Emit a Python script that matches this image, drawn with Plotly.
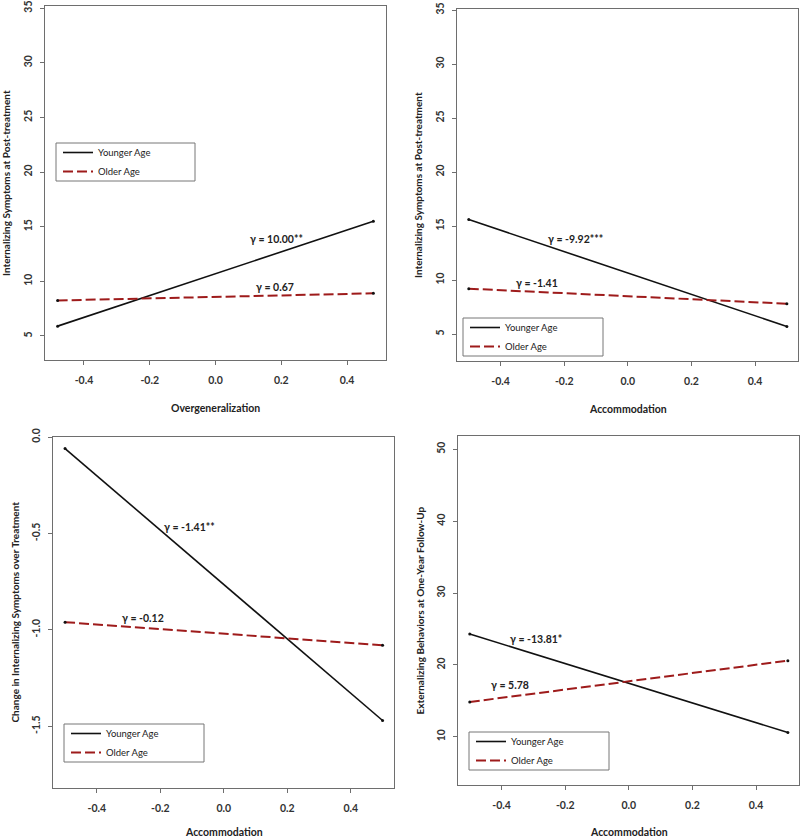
import plotly.graph_objects as go

# ---------------- data ----------------
x_p1 = [-0.48, 0.48]
younger_p1 = [5.9, 15.5]
older_p1 = [8.25, 8.9]

x_p2 = [-0.5, 0.5]
younger_p2 = [15.6, 5.7]
older_p2 = [9.2, 7.8]

x_p3 = [-0.5, 0.5]
younger_p3 = [-0.06, -1.47]
older_p3 = [-0.96, -1.08]

x_p4 = [-0.5, 0.5]
younger_p4 = [24.3, 10.6]
older_p4 = [14.85, 20.6]

series_names = ["Younger Age", "Older Age"]
x_titles = ["Overgeneralization", "Accommodation", "Accommodation", "Accommodation"]
y_titles = ["Internalizing Symptoms at Post-treatment",
            "Internalizing Symptoms at Post-treatment",
            "Change in Internalizing Symptoms over Treatment",
            "Externalizing Behaviors at One-Year Follow-Up"]
x_ticks = [-0.4, -0.2, 0.0, 0.2, 0.4]
x_ticklabels = ["-0.4", "-0.2", "0.0", "0.2", "0.4"]
y_ticks = [[5, 10, 15, 20, 25, 30, 35], [5, 10, 15, 20, 25, 30, 35],
           [-1.5, -1.0, -0.5, 0.0], [10, 20, 30, 40, 50]]
y_ticklabels = [["5", "10", "15", "20", "25", "30", "35"],
                ["5", "10", "15", "20", "25", "30", "35"],
                ["-1.5", "-1.0", "-0.5", "0.0"],
                ["10", "20", "30", "40", "50"]]
gamma_labels = [["γ = 10.00**", "γ = 0.67"], ["γ = -9.92***", "γ = -1.41"],
                ["γ = -1.41**", "γ = -0.12"], ["γ = -13.81*", "γ = 5.78"]]
# annotation anchor points in data coordinates
gamma_pos = [[(0.186, 13.87), (0.18, 9.48)], [(-0.165, 13.8), (-0.284, 9.72)],
             [(-0.109, -0.466), (-0.256, -0.939)], [(-0.292, 23.63), (-0.375, 17.19)]]

# ---------------- layout geometry (pixels) ----------------
W, H = 800, 840
boxes = [  # left, right, top, bottom
    (45, 386, 6, 360),
    (457, 798, 9, 361),
    (53, 394, 437, 788),
    (458, 799, 436, 785),
]
x_ranges = [[-0.5184, 0.5184], [-0.537, 0.535], [-0.538, 0.536], [-0.537, 0.535]]
y_ranges = [[2.8, 35.2], [2.5, 35.1], [-1.82, 0.0], [3.3, 51.85]]
legend_boxes = [(56, 195, 143, 181), (463, 603, 318, 356), (64, 204, 724, 762), (469, 609, 732, 770)]

DATA = [(x_p1, younger_p1, older_p1), (x_p2, younger_p2, older_p2),
        (x_p3, younger_p3, older_p3), (x_p4, younger_p4, older_p4)]

BLACK = "#111111"
RED = "#9E1B1B"
AXIS = "#6e6e6e"
FONT = "Lato"

fig = go.Figure()
layout = dict(width=W, height=H, margin=dict(l=0, r=0, t=0, b=0, autoexpand=False),
              paper_bgcolor="white", plot_bgcolor="white", showlegend=True,
              template="none")
annotations = []
shapes = []

for i, (xs, yy, yo) in enumerate(DATA):
    n = i + 1
    xa = "x" if n == 1 else f"x{n}"
    ya = "y" if n == 1 else f"y{n}"
    leg = "legend" if n == 1 else f"legend{n}"
    fig.add_trace(go.Scatter(x=xs, y=yy, mode="lines", name=series_names[0],
                             line=dict(color=BLACK, width=1.6),
                             xaxis=xa, yaxis=ya, legend=leg))
    fig.add_trace(go.Scatter(x=xs, y=yo, mode="lines", name=series_names[1],
                             line=dict(color=RED, width=2, dash="10px,4px"),
                             xaxis=xa, yaxis=ya, legend=leg))
    for ys in (yy, yo):
        fig.add_trace(go.Scatter(x=xs, y=ys, mode="markers", showlegend=False,
                                 marker=dict(size=3, color=BLACK),
                                 xaxis=xa, yaxis=ya, hoverinfo="skip"))
    l, r, t, b = boxes[i]
    xd = [l / W, r / W]
    yd = [1 - b / H, 1 - t / H]
    axis_common = dict(showline=True, linecolor=AXIS, linewidth=1, mirror=True,
                       ticks="outside", ticklen=4, tickcolor=AXIS, showgrid=False,
                       zeroline=False, automargin=False,
                       tickfont=dict(family=FONT, size=10.5, color="#333333", weight="bold"))
    layout["xaxis" if n == 1 else f"xaxis{n}"] = dict(
        domain=xd, range=x_ranges[i], anchor=ya, tickvals=x_ticks, ticktext=x_ticklabels,
        ticklabelstandoff=6, **axis_common)
    layout["yaxis" if n == 1 else f"yaxis{n}"] = dict(
        domain=yd, range=y_ranges[i], anchor=xa, tickvals=y_ticks[i], ticktext=y_ticklabels[i],
        tickangle=-90, ticklabelstandoff=4, **axis_common)

    # axis titles
    cx = (l + r) / 2
    ty = min(b + 48, 832)
    annotations.append(dict(text=x_titles[i], xref="paper", yref="paper",
                            x=cx / W, y=1 - ty / H, showarrow=False,
                            font=dict(family=FONT, size=10.5, color="#222222", weight="bold"),
                            xanchor="center", yanchor="middle"))
    annotations.append(dict(text=y_titles[i], xref="paper", yref="paper",
                            x=(l - 39) / W, y=1 - ((t + b) / 2) / H, showarrow=False,
                            textangle=-90,
                            font=dict(family=FONT, size=10, color="#222222", weight="bold"),
                            xanchor="center", yanchor="middle"))
    # gamma labels
    for k in range(2):
        gx, gy = gamma_pos[i][k]
        annotations.append(dict(text=gamma_labels[i][k], x=gx, y=gy, xref=xa, yref=ya,
                                showarrow=False,
                                font=dict(family=FONT, size=10.5, color="#222222", weight="bold"),
                                xanchor="center", yanchor="middle"))
    # legend
    lx0, lx1, ly0, ly1 = legend_boxes[i]
    shapes.append(dict(type="rect", xref="paper", yref="paper",
                       x0=lx0 / W, x1=lx1 / W, y0=1 - ly1 / H, y1=1 - ly0 / H,
                       line=dict(color="#777777", width=1), fillcolor="rgba(0,0,0,0)"))
    layout[leg] = dict(x=(lx0 + 2) / W, y=1 - ((ly0 + ly1) / 2) / H, xanchor="left",
                       yanchor="middle", bgcolor="rgba(0,0,0,0)", borderwidth=0,
                       tracegroupgap=0, itemwidth=30,
                       font=dict(family=FONT, size=9.5, color="#222222"))

layout["annotations"] = annotations
layout["shapes"] = shapes
fig.update_layout(**layout)
fig.write_html("out.html", config={"displayModeBar": False},
               post_script="document.body.style.margin='0';document.body.style.padding='0';")
